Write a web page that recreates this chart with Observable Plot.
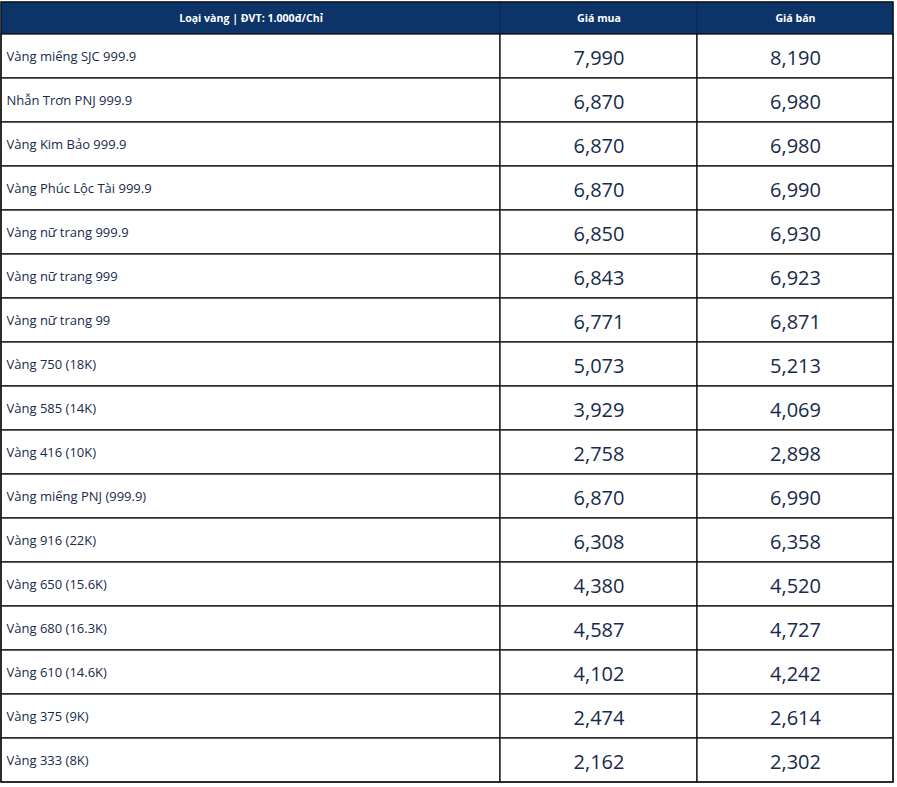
<!DOCTYPE html>
<html>
<head>
<meta charset="utf-8">
<script src="https://cdn.jsdelivr.net/npm/d3@7"></script>
<script src="https://cdn.jsdelivr.net/npm/@observablehq/plot@0.6"></script>
<style>
  html, body { margin: 0; padding: 0; background: #fff; }
  svg { display: block; }
</style>
</head>
<body>
<div id="chart"></div>
<script>
const headers = ["Loại vàng | ĐVT: 1.000đ/Chỉ", "Giá mua", "Giá bán"];
const categories = [
  "Vàng miếng SJC 999.9",
  "Nhẫn Trơn PNJ 999.9",
  "Vàng Kim Bảo 999.9",
  "Vàng Phúc Lộc Tài 999.9",
  "Vàng nữ trang 999.9",
  "Vàng nữ trang 999",
  "Vàng nữ trang 99",
  "Vàng 750 (18K)",
  "Vàng 585 (14K)",
  "Vàng 416 (10K)",
  "Vàng miếng PNJ (999.9)",
  "Vàng 916 (22K)",
  "Vàng 650 (15.6K)",
  "Vàng 680 (16.3K)",
  "Vàng 610 (14.6K)",
  "Vàng 375 (9K)",
  "Vàng 333 (8K)"
];
const buyPrices  = [7990, 6870, 6870, 6870, 6850, 6843, 6771, 5073, 3929, 2758, 6870, 6308, 4380, 4587, 4102, 2474, 2162];
const sellPrices = [8190, 6980, 6980, 6990, 6930, 6923, 6871, 5213, 4069, 2898, 6990, 6358, 4520, 4727, 4242, 2614, 2302];

// Table layout (columns in x-scale units, rows as indices on the y-scale)
const colEdges = [1, 500, 697, 893];
const headerSpan = 32 / 44; // header height relative to a row
const navy = "#0c3468";
const ink = "#172a4a";

const rows = categories.map((name, i) => ({i, name, buy: buyPrices[i], sell: sellPrices[i]}));
const cells = [];
rows.forEach(r => {
  for (let c = 0; c < 3; c++) cells.push({i: r.i, c});
});
const headerCells = headers.map((h, c) => ({c, h}));
const fmt = d3.format(",");

const plot = Plot.plot({
  width: 897,
  height: 787,
  margin: 0,
  x: {type: "linear", domain: [0, 897], range: [0, 897], axis: null},
  y: {type: "linear", domain: [-headerSpan, categories.length], range: [2, 782], axis: null},
  style: {fontFamily: "'Open Sans', 'Noto Sans', sans-serif", background: "#fff"},
  marks: [
    Plot.rect(headerCells, {
      x1: d => colEdges[d.c], x2: d => colEdges[d.c + 1],
      y1: -headerSpan, y2: 0,
      fill: navy, stroke: "#0a2a55", strokeWidth: 1
    }),
    Plot.rect(cells, {
      x1: d => colEdges[d.c], x2: d => colEdges[d.c + 1],
      y1: d => d.i, y2: d => d.i + 1,
      fill: "#fff", stroke: "#111", strokeWidth: 1.3
    }),
    Plot.rect([0], {
      x1: colEdges[0], x2: colEdges[3], y1: -headerSpan, y2: categories.length,
      fill: "none", stroke: "#111", strokeWidth: 1.3
    }),
    Plot.text(headerCells, {
      x: d => (colEdges[d.c] + colEdges[d.c + 1]) / 2,
      y: -headerSpan / 2,
      text: d => d.h,
      fill: "#fff", fontWeight: "bold", fontSize: 10.6
    }),
    Plot.text(rows, {
      x: colEdges[0] + 5, y: d => d.i + 0.5,
      text: "name", textAnchor: "start",
      fill: ink, fontSize: 13
    }),
    Plot.text(rows, {
      x: (colEdges[1] + colEdges[2]) / 2, y: d => d.i + 0.55,
      text: d => fmt(d.buy), fill: ink, fontSize: 20, fontWeight: 500
    }),
    Plot.text(rows, {
      x: (colEdges[2] + colEdges[3]) / 2, y: d => d.i + 0.55,
      text: d => fmt(d.sell), fill: ink, fontSize: 20, fontWeight: 500
    })
  ]
});
document.getElementById("chart").append(plot);
</script>
</body>
</html>
